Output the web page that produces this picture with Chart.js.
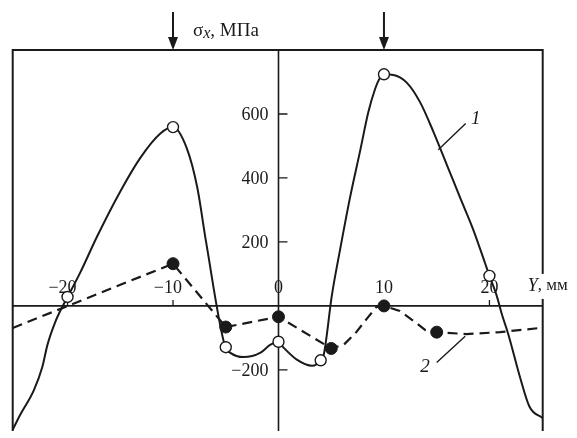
<!DOCTYPE html>
<html>
<head>
<meta charset="utf-8">
<script src="https://cdn.jsdelivr.net/npm/chart.js@4/dist/chart.umd.min.js"></script>
<style>
  body { margin: 0; background: #fff; }
  #wrap { width: 577px; height: 438px; }
</style>
</head>
<body>
<div id="wrap"><canvas id="myChart" width="577" height="438"></canvas></div>
<script>
// curve 1 (solid line)
const curve1Pos = [-25.2, -24.5, -23.2, -22.4, -21.9, -21.15, -20.5, -20, -18.8, -17.2, -15, -13.1, -11.2, -10,
  -8.7, -7.7, -6.85, -5.05, -4.6, -3.3, -1.7, -0.8, 0, 0.5, 1.7, 3.2, 4, 4.3, 5.06, 5.84, 6.79, 7.73, 8.52, 9.16, 9.63, 10,
  10.9, 12.16, 13.42, 14.68, 15.95, 17.2, 18.47, 19.57, 20, 20.68, 21.15, 21.8, 22.9, 23.8, 25.05];
const curve1Val = [-387, -341, -264, -192, -121, -49, -3, 28, 104, 217, 358, 463, 539, 559,
  493, 370, 197, -129, -146, -160, -146, -122, -112, -131, -167, -187, -170, -151, 33, 176, 340, 483, 606, 678, 713, 724,
  722, 698, 637, 545, 442, 340, 238, 135, 94, 33, -23, -90, -223, -315, -351];
// measured points of curve 1 (open circles)
const marks1Pos = [-20, -10, -5, 0, 4, 10, 20];
const marks1Val = [28, 559, -129, -112, -170, 724, 94];

// curve 2 (dashed line)
const curve2Pos = [-25.2, -10, -5, 0, 5, 6.2, 7.3, 8.4, 9.3, 10, 11.5, 12.8, 13.9, 15, 17.8, 21, 25.05];
const curve2Val = [-69, 132, -66, -34, -133, -121, -85, -39, -3, 0, -16, -47, -75, -82, -88, -82, -68];
// measured points of curve 2 (filled dots)
const marks2Pos = [-10, -5, 0, 5, 10, 15];
const marks2Val = [132, -66, -34, -133, 0, -82];

const xTicks = [-20, -10, 0, 10, 20];
const yTicks = [-200, 200, 400, 600];
const arrowPos = [-10, 10];

const toXY = (xs, ys) => xs.map((x, i) => ({ x: x, y: ys[i] }));
const INK = '#1a1a1a';
const SERIF = '"Liberation Serif", "DejaVu Serif", serif';

// draws the crossed axes, frame, ticks and notes
const axesPlugin = {
  id: 'crossAxes',
  beforeDatasetsDraw(chart) {
    const ctx = chart.ctx;
    const a = chart.chartArea;
    const xs = chart.scales.x, ys = chart.scales.y;
    const x0 = xs.getPixelForValue(0), y0 = ys.getPixelForValue(0);
    ctx.save();
    ctx.strokeStyle = INK;
    ctx.fillStyle = INK;
    ctx.lineWidth = 2;
    // frame without bottom
    ctx.beginPath();
    ctx.moveTo(a.left, a.bottom);
    ctx.lineTo(a.left, a.top);
    ctx.lineTo(a.right, a.top);
    ctx.lineTo(a.right, a.bottom);
    ctx.stroke();
    // axes
    ctx.lineWidth = 1.6;
    ctx.beginPath();
    ctx.moveTo(a.left, y0); ctx.lineTo(a.right, y0);
    ctx.moveTo(x0, a.top); ctx.lineTo(x0, a.bottom);
    ctx.stroke();
    // ticks
    ctx.lineWidth = 1.3;
    ctx.beginPath();
    yTicks.forEach(v => {
      const py = ys.getPixelForValue(v);
      ctx.moveTo(x0, py); ctx.lineTo(x0 + 9, py);
    });
    xTicks.forEach(v => {
      if (v === 0) return;
      const px = xs.getPixelForValue(v);
      ctx.moveTo(px, y0); ctx.lineTo(px, y0 - 6);
    });
    ctx.stroke();
    // tick labels
    ctx.font = '18px ' + SERIF;
    ctx.textBaseline = 'middle';
    ctx.textAlign = 'right';
    yTicks.forEach(v => {
      const txt = (v < 0 ? '\u2212' : '') + Math.abs(v);
      ctx.fillText(txt, x0 - 10, ys.getPixelForValue(v) + 1);
    });
    xTicks.forEach(v => {
      const px = xs.getPixelForValue(v);
      const digits = String(Math.abs(v));
      ctx.textAlign = 'center';
      ctx.fillText(digits, px, y0 - 18);
      if (v < 0) {
        const w = ctx.measureText(digits).width;
        ctx.textAlign = 'right';
        ctx.fillText('\u2212', px - w / 2, y0 - 18);
      }
    });
    // axis name for Y, sitting in a gap of the right frame line
    const lx = a.right - 15, ly = y0 - 20;
    ctx.fillStyle = '#fff';
    ctx.fillRect(lx, y0 - 32, 44, 25);
    ctx.fillStyle = INK;
    ctx.textAlign = 'left';
    ctx.font = 'italic 18px ' + SERIF;
    ctx.fillText('Y', lx, ly);
    let w = ctx.measureText('Y').width;
    ctx.font = '17px ' + SERIF;
    ctx.fillText(', мм', lx + w, ly);
    // arrows on top
    arrowPos.forEach(v => {
      const px = xs.getPixelForValue(v);
      ctx.lineWidth = 2;
      ctx.beginPath();
      ctx.moveTo(px, 12); ctx.lineTo(px, a.top - 8);
      ctx.stroke();
      ctx.beginPath();
      ctx.moveTo(px - 5, a.top - 13);
      ctx.lineTo(px + 5, a.top - 13);
      ctx.lineTo(px, a.top);
      ctx.closePath();
      ctx.fill();
    });
    // title
    const tx = xs.getPixelForValue(-10) + 20;
    ctx.font = '19px ' + SERIF;
    ctx.fillText('σ', tx, 31);
    w = ctx.measureText('σ').width;
    ctx.font = 'italic 16px ' + SERIF;
    ctx.fillText('x', tx + w, 34);
    const w2 = ctx.measureText('x').width;
    ctx.font = '19px ' + SERIF;
    ctx.fillText(', МПа', tx + w + w2, 31);
    // curve labels with leaders
    ctx.lineWidth = 1.4;
    ctx.beginPath();
    ctx.moveTo(xs.getPixelForValue(17.75), ys.getPixelForValue(570));
    ctx.lineTo(xs.getPixelForValue(15.15), ys.getPixelForValue(488));
    ctx.moveTo(xs.getPixelForValue(15.0), ys.getPixelForValue(-177));
    ctx.lineTo(xs.getPixelForValue(17.7), ys.getPixelForValue(-95));
    ctx.stroke();
    ctx.font = 'italic 19px ' + SERIF;
    ctx.textAlign = 'center';
    ctx.fillText('1', xs.getPixelForValue(18.7), ys.getPixelForValue(585));
    ctx.fillText('2', xs.getPixelForValue(13.9), ys.getPixelForValue(-190));
    ctx.restore();
  }
};

const config = {
  type: 'line',
  data: {
    datasets: [{
      data: toXY(marks1Pos, marks1Val),
      showLine: false,
      pointRadius: 5.5,
      pointBackgroundColor: '#fff',
      pointBorderColor: INK,
      pointBorderWidth: 1.4,
      order: 0
    }, {
      data: toXY(marks2Pos, marks2Val),
      showLine: false,
      pointRadius: 6,
      pointBackgroundColor: INK,
      pointBorderColor: INK,
      pointBorderWidth: 1,
      order: 0
    }, {
      data: toXY(curve1Pos, curve1Val),
      borderColor: INK,
      borderWidth: 2,
      pointRadius: 0,
      cubicInterpolationMode: 'monotone',
      order: 1
    }, {
      data: toXY(curve2Pos, curve2Val),
      borderColor: INK,
      borderWidth: 2.2,
      borderDash: [10, 6],
      pointRadius: 0,
      tension: 0,
      order: 1
    }]
  },
  options: {
    responsive: false,
    animation: false,
    layout: { padding: { left: 12.7, right: 34.3, top: 50, bottom: 0 } },
    plugins: { legend: { display: false }, tooltip: { enabled: false } },
    scales: {
      x: { type: 'linear', min: -25.2, max: 25.05, display: false },
      y: { type: 'linear', min: -391, max: 800, display: false }
    }
  },
  plugins: [axesPlugin]
};

window.onload = function() {
  const ctx = document.getElementById('myChart').getContext('2d');
  new Chart(ctx, config);
};
</script>
</body>
</html>
